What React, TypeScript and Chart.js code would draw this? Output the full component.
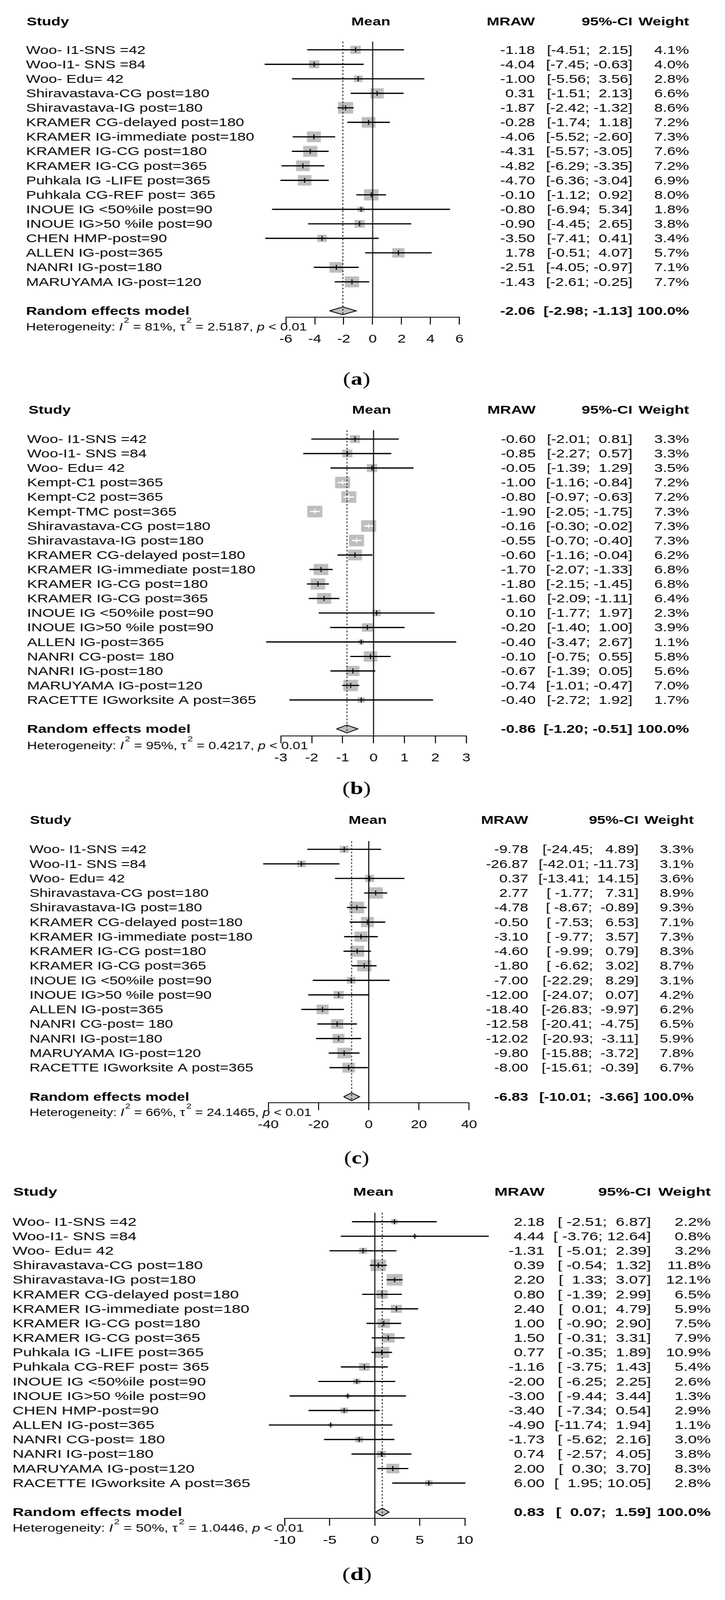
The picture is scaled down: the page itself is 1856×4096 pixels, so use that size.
import React, { useEffect, useRef } from 'react';
import { Chart, registerables } from 'chart.js';

Chart.register(...registerables);

const K = 0.911;
const REF_W = 2037;
const FONT = '"Liberation Sans", Arial, Helvetica, sans-serif';
const SERIF = '"Liberation Serif", "DejaVu Serif", serif';
const BOX_GRAY = '#bebebe';

// ---------------- Panel (a) ----------------
const studiesA = ['Woo- I1-SNS =42', 'Woo-I1- SNS =84', 'Woo- Edu= 42', 'Shiravastava-CG post=180', 'Shiravastava-IG post=180', 'KRAMER CG-delayed post=180', 'KRAMER IG-immediate post=180', 'KRAMER IG-CG post=180', 'KRAMER IG-CG post=365', 'Puhkala IG -LIFE post=365', 'Puhkala CG-REF post= 365', 'INOUE IG <50%ile post=90', 'INOUE IG>50 %ile post=90', 'CHEN HMP-post=90', 'ALLEN IG-post=365', 'NANRI IG-post=180', 'MARUYAMA IG-post=120'];
const meanA = [-1.18, -4.04, -1.00, 0.31, -1.87, -0.28, -4.06, -4.31, -4.82, -4.70, -0.10, -0.80, -0.90, -3.50, 1.78, -2.51, -1.43];
const lowerA = [-4.51, -7.45, -5.56, -1.51, -2.42, -1.74, -5.52, -5.57, -6.29, -6.36, -1.12, -6.94, -4.45, -7.41, -0.51, -4.05, -2.61];
const upperA = [2.15, -0.63, 3.56, 2.13, -1.32, 1.18, -2.60, -3.05, -3.35, -3.04, 0.92, 5.34, 2.65, 0.41, 4.07, -0.97, -0.25];
const weightA = [4.1, 4.0, 2.8, 6.6, 8.6, 7.2, 7.3, 7.6, 7.2, 6.9, 8.0, 1.8, 3.8, 3.4, 5.7, 7.1, 7.7];
const summaryA = [-2.06, -2.98, -1.13];
const hetA = ['81%', '2.5187', '< 0.01'];
const ticksA = [-6, -4, -2, 0, 2, 4, 6];

// ---------------- Panel (b) ----------------
const studiesB = ['Woo- I1-SNS =42', 'Woo-I1- SNS =84', 'Woo- Edu= 42', 'Kempt-C1 post=365', 'Kempt-C2 post=365', 'Kempt-TMC post=365', 'Shiravastava-CG post=180', 'Shiravastava-IG post=180', 'KRAMER CG-delayed post=180', 'KRAMER IG-immediate post=180', 'KRAMER IG-CG post=180', 'KRAMER IG-CG post=365', 'INOUE IG <50%ile post=90', 'INOUE IG>50 %ile post=90', 'ALLEN IG-post=365', 'NANRI CG-post= 180', 'NANRI IG-post=180', 'MARUYAMA IG-post=120', 'RACETTE IGworksite A post=365'];
const meanB = [-0.60, -0.85, -0.05, -1.00, -0.80, -1.90, -0.16, -0.55, -0.60, -1.70, -1.80, -1.60, 0.10, -0.20, -0.40, -0.10, -0.67, -0.74, -0.40];
const lowerB = [-2.01, -2.27, -1.39, -1.16, -0.97, -2.05, -0.30, -0.70, -1.16, -2.07, -2.15, -2.09, -1.77, -1.40, -3.47, -0.75, -1.39, -1.01, -2.72];
const upperB = [0.81, 0.57, 1.29, -0.84, -0.63, -1.75, -0.02, -0.40, -0.04, -1.33, -1.45, -1.11, 1.97, 1.00, 2.67, 0.55, 0.05, -0.47, 1.92];
const weightB = [3.3, 3.3, 3.5, 7.2, 7.2, 7.3, 7.3, 7.3, 6.2, 6.8, 6.8, 6.4, 2.3, 3.9, 1.1, 5.8, 5.6, 7.0, 1.7];
const summaryB = [-0.86, -1.20, -0.51];
const hetB = ['95%', '0.4217', '< 0.01'];
const ticksB = [-3, -2, -1, 0, 1, 2, 3];

// ---------------- Panel (c) ----------------
const studiesC = ['Woo- I1-SNS =42', 'Woo-I1- SNS =84', 'Woo- Edu= 42', 'Shiravastava-CG post=180', 'Shiravastava-IG post=180', 'KRAMER CG-delayed post=180', 'KRAMER IG-immediate post=180', 'KRAMER IG-CG post=180', 'KRAMER IG-CG post=365', 'INOUE IG <50%ile post=90', 'INOUE IG>50 %ile post=90', 'ALLEN IG-post=365', 'NANRI CG-post= 180', 'NANRI IG-post=180', 'MARUYAMA IG-post=120', 'RACETTE IGworksite A post=365'];
const meanC = [-9.78, -26.87, 0.37, 2.77, -4.78, -0.50, -3.10, -4.60, -1.80, -7.00, -12.00, -18.40, -12.58, -12.02, -9.80, -8.00];
const lowerC = [-24.45, -42.01, -13.41, -1.77, -8.67, -7.53, -9.77, -9.99, -6.62, -22.29, -24.07, -26.83, -20.41, -20.93, -15.88, -15.61];
const upperC = [4.89, -11.73, 14.15, 7.31, -0.89, 6.53, 3.57, 0.79, 3.02, 8.29, 0.07, -9.97, -4.75, -3.11, -3.72, -0.39];
const weightC = [3.3, 3.1, 3.6, 8.9, 9.3, 7.1, 7.3, 8.3, 8.7, 3.1, 4.2, 6.2, 6.5, 5.9, 7.8, 6.7];
const summaryC = [-6.83, -10.01, -3.66];
const hetC = ['66%', '24.1465', '< 0.01'];
const ticksC = [-40, -20, 0, 20, 40];

// ---------------- Panel (d) ----------------
const studiesD = ['Woo- I1-SNS =42', 'Woo-I1- SNS =84', 'Woo- Edu= 42', 'Shiravastava-CG post=180', 'Shiravastava-IG post=180', 'KRAMER CG-delayed post=180', 'KRAMER IG-immediate post=180', 'KRAMER IG-CG post=180', 'KRAMER IG-CG post=365', 'Puhkala IG -LIFE post=365', 'Puhkala CG-REF post= 365', 'INOUE IG <50%ile post=90', 'INOUE IG>50 %ile post=90', 'CHEN HMP-post=90', 'ALLEN IG-post=365', 'NANRI CG-post= 180', 'NANRI IG-post=180', 'MARUYAMA IG-post=120', 'RACETTE IGworksite A post=365'];
const meanD = [2.18, 4.44, -1.31, 0.39, 2.20, 0.80, 2.40, 1.00, 1.50, 0.77, -1.16, -2.00, -3.00, -3.40, -4.90, -1.73, 0.74, 2.00, 6.00];
const lowerD = [-2.51, -3.76, -5.01, -0.54, 1.33, -1.39, 0.01, -0.90, -0.31, -0.35, -3.75, -6.25, -9.44, -7.34, -11.74, -5.62, -2.57, 0.30, 1.95];
const upperD = [6.87, 12.64, 2.39, 1.32, 3.07, 2.99, 4.79, 2.90, 3.31, 1.89, 1.43, 2.25, 3.44, 0.54, 1.94, 2.16, 4.05, 3.70, 10.05];
const weightD = [2.2, 0.8, 3.2, 11.8, 12.1, 6.5, 5.9, 7.5, 7.9, 10.9, 5.4, 2.6, 1.3, 2.9, 1.1, 3.0, 3.8, 8.3, 2.8];
const summaryD = [0.83, 0.07, 1.59];
const hetD = ['50%', '1.0446', '< 0.01'];
const ticksD = [-10, -5, 0, 5, 10];

// Layout (reference-pixel positions)
const layoutA = { top: 0, height: 1110, stretch: 1.30, y1: 140, rowH: 40.75, zeroTop: 117, axisY: 891, labelX: 73, studyX: 75, meanX: 1042, headerY: 62, col1: 1503, col2: 1777, col3: 1936, xLeftPx: 803, xRightPx: 1291, tag: 'a', tagX: 1002, tagY: 1068 };
const layoutB = { top: 1110, height: 1145, stretch: 1.30, y1: 1234, rowH: 40.73, zeroTop: 1209, axisY: 2068, labelX: 76, studyX: 80, meanX: 1044, headerY: 1154, col1: 1505, col2: 1777, col3: 1936, xLeftPx: 789, xRightPx: 1310, tag: 'b', tagX: 1002, tagY: 2219 };
const layoutC = { top: 2255, height: 1045, stretch: 1.27, y1: 2387, rowH: 40.9, zeroTop: 2364, axisY: 3099, labelX: 83, studyX: 84, meanX: 1033, headerY: 2306, col1: 1484, col2: 1794, col3: 1949, xLeftPx: 754, xRightPx: 1318, tag: 'c', tagX: 1002, tagY: 3257 };
const layoutD = { top: 3300, height: 1195, stretch: 1.35, y1: 3433.5, rowH: 40.8, zeroTop: 3408, axisY: 4267, labelX: 35, studyX: 37, meanX: 1049, headerY: 3351, col1: 1530, col2: 1829, col3: 1997, xLeftPx: 800, xRightPx: 1306, tag: 'd', tagX: 1003, tagY: 4427 };

const panels = [
  { studies: studiesA, mean: meanA, lower: lowerA, upper: upperA, weight: weightA, summary: summaryA, het: hetA, ticks: ticksA, layout: layoutA },
  { studies: studiesB, mean: meanB, lower: lowerB, upper: upperB, weight: weightB, summary: summaryB, het: hetB, ticks: ticksB, layout: layoutB },
  { studies: studiesC, mean: meanC, lower: lowerC, upper: upperC, weight: weightC, summary: summaryC, het: hetC, ticks: ticksC, layout: layoutC },
  { studies: studiesD, mean: meanD, lower: lowerD, upper: upperD, weight: weightD, summary: summaryD, het: hetD, ticks: ticksD, layout: layoutD },
];

function ForestPanel({ p }: { p: any }) {
  const ref = useRef<HTMLCanvasElement | null>(null);
  const L = p.layout;
  const cssW = REF_W * K;
  const cw = Math.round(cssW / L.stretch);
  const S = cssW / cw;
  const ch = Math.round(L.height * K);

  useEffect(() => {
    const canvas = ref.current;
    if (!canvas) return;
    const X = (xr: number) => (xr * K) / S;
    const Y = (yr: number) => (yr - L.top) * K;
    const n = p.studies.length;
    const topRow = 1 - (L.y1 - L.zeroTop) / L.rowH;
    const axisRow = 1 + (L.axisY - L.y1) / L.rowH;
    const sumRow = n + 2;
    const rowHc = L.rowH * K;
    const wmax = Math.max(...p.weight);
    const side = (i: number) => 0.8 * rowHc * Math.sqrt(p.weight[i] / wmax);
    const inside = (chart: any, i: number) => {
      const xs = chart.scales.x;
      if (!xs) return false;
      const w = xs.getPixelForValue(p.upper[i]) - xs.getPixelForValue(p.lower[i]);
      return w < side(i) * 0.9;
    };
    const rows = p.mean.map((_: number, i: number) => i + 1);
    const [sm, sl, su] = p.summary;
    const dh = 0.27;

    // CI strings (R-style padding)
    const los = [...p.lower, sl].map((v: number) => v.toFixed(2));
    const ups = [...p.upper, su].map((v: number) => v.toFixed(2));
    const mlo = Math.max(...los.map((s: string) => s.length));
    const mup = Math.max(...ups.map((s: string) => s.length));
    const ciStr = los.map((s: string, i: number) => `[${s.padStart(mlo)}; ${ups[i].padStart(mup)}]`);

    const f = (size: number, bold = false, italic = false) => `${italic ? 'italic ' : ''}${bold ? 'bold ' : ''}${size}px ${FONT}`;

    const textPlugin = {
      id: 'forestText',
      afterDraw(chart: any) {
        const c = chart.ctx;
        const ys = chart.scales.y;
        const dy = 2 * K;
        c.save();
        c.fillStyle = '#000';
        c.textBaseline = 'middle';
        const txt = (s: string, x: number, y: number, align: string, font: string) => {
          c.font = font;
          c.textAlign = align;
          c.fillText(s, x, y);
        };
        const hy = Y(L.headerY);
        txt('Study', X(L.studyX), hy, 'left', f(30, true));
        txt('Mean', X(L.meanX), hy, 'center', f(30, true));
        txt('MRAW', X(L.col1), hy, 'right', f(30, true));
        txt('95%-CI', X(L.col2), hy, 'right', f(30, true));
        txt('Weight', X(L.col3), hy, 'right', f(30, true));
        for (let i = 0; i < n; i++) {
          const y = ys.getPixelForValue(i + 1) + dy;
          txt(p.studies[i], X(L.labelX), y, 'left', f(30));
          txt(p.mean[i].toFixed(2), X(L.col1), y, 'right', f(30));
          txt(ciStr[i], X(L.col2), y, 'right', f(30));
          txt(p.weight[i].toFixed(1) + '%', X(L.col3), y, 'right', f(30));
        }
        const sy = ys.getPixelForValue(sumRow) + dy;
        txt('Random effects model', X(L.labelX), sy, 'left', f(30, true));
        txt(sm.toFixed(2), X(L.col1), sy, 'right', f(30, true));
        txt(ciStr[n], X(L.col2), sy, 'right', f(30, true));
        txt('100.0%', X(L.col3), sy, 'right', f(30, true));

        // heterogeneity
        const hty = Y(L.axisY + 29);
        let hx = X(L.labelX);
        const segs: [string, string][] = [
          ['Heterogeneity: ', 'n'], ['I', 'i'], ['2', 's'], [' = ' + p.het[0] + ', ', 'n'],
          ['\u03c4', 'n'], ['2', 's'], [' = ' + p.het[1] + ', ', 'n'], ['p', 'i'], [' ' + p.het[2], 'n'],
        ];
        c.textAlign = 'left';
        for (const [t, k] of segs) {
          c.font = k === 'i' ? f(27, false, true) : k === 's' ? f(19) : f(27);
          c.fillText(t, hx + (k === 's' ? 2 : 0), k === 's' ? hty - 17 : hty);
          hx += c.measureText(t).width + (k === 's' ? 2 : 0);
        }

        // panel tag
        const ty = Y(L.tagY);
        const parts: [string, string][] = [['(', `46px ${SERIF}`], [L.tag, `bold 46px ${SERIF}`], [')', `46px ${SERIF}`]];
        let tw = 0;
        for (const [t, fnt] of parts) { c.font = fnt; tw += c.measureText(t).width; }
        let tx = X(L.tagX) - tw / 2;
        for (const [t, fnt] of parts) { c.font = fnt; c.fillText(t, tx, ty); tx += c.measureText(t).width; }
        c.restore();
      },
    };

    const chart = new Chart(canvas, {
      type: 'scatter',
      data: {
        datasets: [
          {
            type: 'bar',
            indexAxis: 'y',
            data: rows.map((r: number, i: number) => ({ y: r, x: [p.lower[i], p.upper[i]] })),
            barThickness: 2.5,
            backgroundColor: (c: any) => (inside(c.chart, c.dataIndex) ? '#ffffff' : '#000000'),
            borderWidth: 0,
            clip: false,
            order: 3,
          } as any,
          {
            type: 'scatter',
            data: rows.map((r: number, i: number) => ({ x: p.mean[i], y: r })),
            pointStyle: 'line',
            pointRotation: 90,
            pointRadius: 6.5,
            pointBorderWidth: 2,
            pointBorderColor: (c: any) => (inside(c.chart, c.dataIndex) ? '#ffffff' : '#000000'),
            clip: false,
            order: 2,
          } as any,
          {
            type: 'scatter',
            data: rows.map((r: number, i: number) => ({ x: p.mean[i], y: r })),
            pointStyle: 'rect',
            pointRadius: (c: any) => side(c.dataIndex) / Math.SQRT2,
            pointBackgroundColor: BOX_GRAY,
            pointBorderWidth: 0,
            clip: false,
            order: 10,
          } as any,
          {
            type: 'line',
            data: [{ x: 0, y: topRow }, { x: 0, y: axisRow }],
            borderColor: '#000000',
            borderWidth: 2,
            pointRadius: 0,
            fill: false,
            clip: false,
            order: 6,
          } as any,
          {
            type: 'line',
            data: [{ x: sm, y: topRow }, { x: sm, y: sumRow + 0.3 }],
            borderColor: '#000000',
            borderWidth: 1.6,
            borderDash: [4.5, 4.5],
            pointRadius: 0,
            fill: false,
            clip: false,
            order: 5,
          } as any,
          {
            type: 'line',
            data: [
              { x: sl, y: sumRow }, { x: sm, y: sumRow - dh }, { x: su, y: sumRow },
              { x: sm, y: sumRow + dh }, { x: sl, y: sumRow },
            ],
            borderColor: '#000000',
            backgroundColor: BOX_GRAY,
            borderWidth: 2,
            pointRadius: 0,
            fill: 'shape',
            clip: false,
            order: 9,
          } as any,
        ],
      },
      options: {
        responsive: false,
        animation: false,
        devicePixelRatio: 1,
        events: [],
        layout: { padding: { left: X(L.xLeftPx), right: cw - X(L.xRightPx), top: Y(L.zeroTop), bottom: 0 } },
        plugins: { legend: { display: false }, tooltip: { enabled: false }, title: { display: false } },
        scales: {
          x: {
            type: 'linear',
            min: p.ticks[0],
            max: p.ticks[p.ticks.length - 1],
            offset: false,
            afterBuildTicks: (s: any) => { s.ticks = p.ticks.map((v: number) => ({ value: v })); },
            afterFit: (s: any) => { s.height = ch - Y(L.axisY); },
            grid: { display: true, drawOnChartArea: false, drawTicks: true, tickLength: 19, color: '#000000', lineWidth: 2 },
            border: { display: true, color: '#000000', width: 2 },
            ticks: { color: '#000000', font: { family: FONT, size: 29 }, padding: 21, autoSkip: false, maxRotation: 0, minRotation: 0, callback: (v: any) => String(v) },
          },
          y: { type: 'linear', display: false, reverse: true, min: topRow, max: axisRow, offset: false },
        },
      } as any,
      plugins: [textPlugin as any],
    });
    return () => chart.destroy();
  }, []);

  return (
    <canvas
      ref={ref}
      width={cw}
      height={ch}
      style={{ position: 'absolute', left: 0, top: Math.round(L.top * K), width: cssW, height: ch, display: 'block' }}
    />
  );
}

export default function App() {
  return (
    <div style={{ position: 'absolute', left: 0, top: 0, width: 1856, height: 4096, background: '#ffffff', overflow: 'hidden' }}>
      {panels.map((p, i) => (
        <ForestPanel key={i} p={p} />
      ))}
    </div>
  );
}
